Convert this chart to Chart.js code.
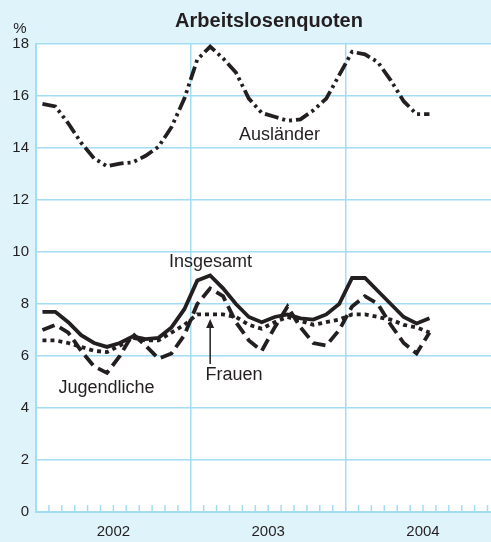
<!DOCTYPE html>
<html lang="de">
<head>
<meta charset="UTF-8">
<title>Arbeitslosenquoten</title>
<style>
  body { margin: 0; background: #dff3fb; }
  canvas { display: block; }
</style>
</head>
<body>
<canvas id="chart" width="491" height="542"></canvas>
<script src="https://cdn.jsdelivr.net/npm/chart.js"></script>
<script>
// Monate Jan 2002 - Jul 2004
const monate = ['01/02','02/02','03/02','04/02','05/02','06/02','07/02','08/02','09/02','10/02','11/02','12/02',
                '01/03','02/03','03/03','04/03','05/03','06/03','07/03','08/03','09/03','10/03','11/03','12/03',
                '01/04','02/04','03/04','04/04','05/04','06/04','07/04'];
const jahre = ['2002', '2003', '2004'];

// Quoten in %
const auslaender  = [15.7,15.6,14.95,14.2,13.6,13.3,13.4,13.45,13.7,14.05,14.8,15.9,17.4,17.9,17.45,16.9,15.9,15.35,15.2,15.05,15.1,15.45,15.9,16.8,17.7,17.6,17.3,16.6,15.8,15.3,15.3];
const insgesamt   = [7.7,7.7,7.3,6.8,6.5,6.35,6.5,6.75,6.65,6.7,7.1,7.8,8.9,9.1,8.6,8.0,7.5,7.3,7.5,7.6,7.45,7.4,7.6,8.0,9.0,9.0,8.5,8.0,7.5,7.25,7.45];
const jugendliche = [7.0,7.2,6.9,6.2,5.6,5.35,6.0,6.85,6.4,5.9,6.1,6.8,8.0,8.6,8.3,7.3,6.6,6.2,7.1,7.9,7.1,6.5,6.4,7.0,7.9,8.3,8.0,7.2,6.5,6.1,6.9];
const frauen      = [6.6,6.6,6.5,6.35,6.2,6.15,6.4,6.7,6.6,6.6,6.9,7.2,7.6,7.6,7.6,7.5,7.2,7.05,7.3,7.5,7.35,7.2,7.3,7.4,7.6,7.6,7.5,7.4,7.2,7.1,6.9];

const blau = '#a3dcf3';
const schwarz = '#231f20';
const schrift = '"Liberation Sans", Arial, sans-serif';

// Punkte in der Monatsmitte
const punkte = arr => arr.map((v, i) => ({ x: i + 0.5, y: v }));

// Beschriftungen (Datenkoordinaten)
const texte = [
  { text: 'Ausländer',   x: 18.88, y: 14.31 },
  { text: 'Insgesamt',   x: 13.53, y: 9.43 },
  { text: 'Jugendliche', x: 5.47,  y: 4.58 },
  { text: 'Frauen',      x: 15.35, y: 5.08 }
];
const pfeil = { x: 13.5, von: 5.69, bis: 7.42 };

const deko = {
  id: 'deko',
  beforeDraw(chart) {
    const { ctx, chartArea: a } = chart;
    ctx.save();
    ctx.fillStyle = '#dff3fb';
    ctx.fillRect(0, 0, chart.width, chart.height);
    ctx.fillStyle = '#ffffff';
    ctx.fillRect(a.left, a.top, a.right - a.left, a.bottom - a.top);
    ctx.restore();
  },
  beforeDatasetsDraw(chart) {
    // Monatsstriche an der x-Achse
    const { ctx, chartArea: a, scales } = chart;
    ctx.save();
    ctx.strokeStyle = blau;
    ctx.lineWidth = 1.5;
    for (let m = 1; m < 36; m++) {
      if (m % 12 === 0) continue;
      const px = scales.x.getPixelForValue(m);
      if (px > a.right) break;
      ctx.beginPath();
      ctx.moveTo(px, a.bottom);
      ctx.lineTo(px, a.bottom - 7);
      ctx.stroke();
    }
    ctx.restore();
  },
  afterDraw(chart) {
    const { ctx, scales } = chart;
    const x = scales.x, y = scales.y;
    ctx.save();
    ctx.fillStyle = schwarz;
    ctx.textAlign = 'center';
    ctx.textBaseline = 'alphabetic';
    ctx.font = 'bold 20px ' + schrift;
    ctx.fillText('Arbeitslosenquoten', 269, 27);
    ctx.font = '15px ' + schrift;
    ctx.fillText('%', 20, 33);

    ctx.font = '18px ' + schrift;
    texte.forEach(t => {
      ctx.fillText(t.text, x.getPixelForValue(t.x), y.getPixelForValue(t.y));
    });

    // Pfeil zu Frauen
    const px = x.getPixelForValue(pfeil.x);
    const y0 = y.getPixelForValue(pfeil.von);
    const y1 = y.getPixelForValue(pfeil.bis);
    ctx.strokeStyle = schwarz;
    ctx.lineWidth = 1.5;
    ctx.beginPath();
    ctx.moveTo(px, y0);
    ctx.lineTo(px, y1 + 6);
    ctx.stroke();
    ctx.beginPath();
    ctx.moveTo(px, y1);
    ctx.lineTo(px - 4, y1 + 9);
    ctx.lineTo(px + 4, y1 + 9);
    ctx.closePath();
    ctx.fill();
    ctx.restore();
  }
};

const linie = (label, data, dash) => ({
  label: label,
  data: punkte(data),
  borderColor: schwarz,
  borderWidth: 3.8,
  borderDash: dash,
  borderCapStyle: 'butt',
  borderJoinStyle: 'miter',
  pointRadius: 0,
  fill: false,
  tension: 0
});

new Chart(document.getElementById('chart'), {
  type: 'line',
  data: {
    labels: monate,
    datasets: [
      linie('Frauen', frauen, [4, 4]),
      linie('Jugendliche', jugendliche, [13, 6]),
      linie('Insgesamt', insgesamt, []),
      linie('Ausländer', auslaender, [14, 4, 3, 4, 3, 4])
    ]
  },
  options: {
    responsive: false,
    animation: false,
    devicePixelRatio: 1,
    layout: { padding: { top: 44, right: 0, left: 0, bottom: 0 } },
    plugins: { legend: { display: false }, tooltip: { enabled: false }, title: { display: false } },
    scales: {
      x: {
        type: 'linear',
        min: 0,
        max: 35.27,
        afterBuildTicks: s => { s.ticks = [0, 6, 12, 18, 24, 30].map(v => ({ value: v })); },
        afterFit: s => { s.height = 30; },
        grid: {
          color: c => (c.tick && c.tick.value % 12 === 0) ? blau : 'rgba(0,0,0,0)',
          lineWidth: 1.5,
          drawTicks: false
        },
        border: { color: blau, width: 2 },
        ticks: {
          autoSkip: false,
          maxRotation: 0,
          padding: 11,
          color: schwarz,
          font: { family: schrift, size: 15 },
          callback: v => (v % 12 === 6) ? jahre[(v - 6) / 12] : ''
        }
      },
      y: {
        min: 0,
        max: 18,
        afterFit: s => { s.width = 36; },
        grid: { color: blau, lineWidth: 1.5, drawTicks: false },
        border: { color: blau, width: 2 },
        ticks: {
          stepSize: 2,
          padding: 7,
          color: schwarz,
          font: { family: schrift, size: 15 }
        }
      }
    }
  },
  plugins: [deko]
});
</script>
</body>
</html>
